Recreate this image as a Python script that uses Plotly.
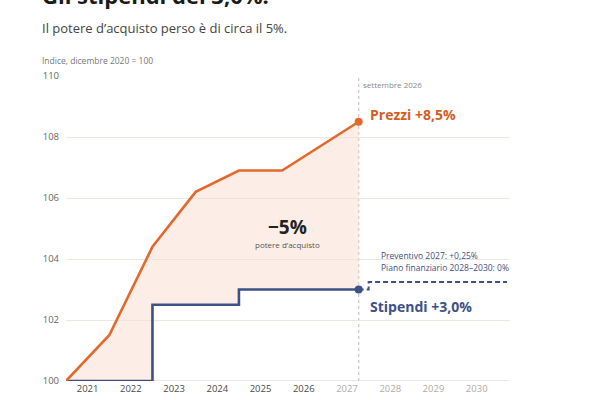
import plotly.graph_objects as go

# ---- data ----
# time in years since December 2020 (position on the chart's time scale)
price_t = [0, 1, 2, 3, 4, 5, 6.77]
price_v = [100, 101.5, 104.4, 106.2, 106.9, 106.9, 108.5]

wage_t = [0, 2, 4, 6.77]
wage_v = [100, 102.5, 103.0, 103.0]

forecast_t = [6.77, 7.0, 10.2]
forecast_v = [103.0, 103.25, 103.25]

year_labels = [2021, 2022, 2023, 2024, 2025, 2026, 2027, 2028, 2029, 2030]
future_from = 2027
y_ticks = [100, 102, 104, 106, 108, 110]

ORANGE = "#e2692c"
ORANGE_TXT = "#d45e22"
BLUE = "#3e5186"
FILL = "rgba(249,222,206,0.5)"
FONT = "Open Sans"

# stepped wage path (hv) from data
step_x, step_y = [wage_t[0]], [wage_v[0]]
for i in range(1, len(wage_t)):
    step_x += [wage_t[i], wage_t[i]]
    step_y += [wage_v[i - 1], wage_v[i]]
poly_x = price_t + step_x[::-1]
poly_y = price_v + step_y[::-1]

fig = go.Figure()
fig.add_trace(go.Scatter(x=poly_x, y=poly_y, fill="toself", fillcolor=FILL,
                         line=dict(width=0), mode="lines", hoverinfo="skip"))
fig.add_trace(go.Scatter(x=forecast_t, y=forecast_v, mode="lines",
                         line=dict(color=BLUE, width=2, dash="5px,3px", shape="hv")))
fig.add_trace(go.Scatter(x=wage_t, y=wage_v, mode="lines",
                         line=dict(color=BLUE, width=2.6, shape="hv")))
fig.add_trace(go.Scatter(x=price_t, y=price_v, mode="lines",
                         line=dict(color=ORANGE, width=2.6)))
fig.add_trace(go.Scatter(x=[price_t[-1]], y=[price_v[-1]], mode="markers",
                         marker=dict(color=ORANGE, size=8)))
fig.add_trace(go.Scatter(x=[wage_t[-1]], y=[wage_v[-1]], mode="markers",
                         marker=dict(color=BLUE, size=8)))

# vertical dotted line at last observation
fig.add_shape(type="line", x0=price_t[-1], x1=price_t[-1], y0=100, y1=110,
              xref="x", yref="y", line=dict(color="#cfcac4", width=1.3, dash="dot"),
              layer="below")
# baseline
fig.add_shape(type="line", x0=0, x1=1, xref="paper", y0=100, y1=100, yref="y",
              line=dict(color="#d6d1ca", width=1.2), layer="below")

ticktext = []
for yv in year_labels:
    col = "#b0aca8" if yv >= future_from else "#4a4a4a"
    ticktext.append(f"<span style='color:{col}'>{yv}</span>")

fig.update_layout(
    width=600, height=400,
    margin=dict(l=66, r=90, t=76, b=19),
    paper_bgcolor="white", plot_bgcolor="white",
    showlegend=False,
    font=dict(family=FONT, color="#555"),
    xaxis=dict(range=[0, 10.27], tickvals=[i + 0.5 for i in range(len(year_labels))],
               ticktext=ticktext, showgrid=False, zeroline=False, showline=False,
               ticks="", tickfont=dict(size=9.5, family=FONT), fixedrange=True,
               automargin=False),
    yaxis=dict(range=[100, 110], tickvals=y_ticks, showgrid=True,
               gridcolor="#ece7e0", gridwidth=1, zeroline=False, showline=False,
               ticks="", tickfont=dict(size=9.5, color="#666", family=FONT),
               ticklabelstandoff=6, fixedrange=True, automargin=False),
)

ann = []
ann.append(dict(text="<b>Gli stipendi del 3,0%.</b>", xref="paper", yref="paper",
                x=-26 / 444, y=(381 - 12) / 305, xanchor="left", yanchor="bottom",
                showarrow=False, font=dict(size=22, color="#1a1a1a", family=FONT)))
ann.append(dict(text="Il potere d’acquisto perso è di circa il 5%.", xref="paper", yref="paper",
                x=-26 / 444, y=(381 - 28) / 305, xanchor="left", yanchor="middle",
                showarrow=False, font=dict(size=13, color="#444", family=FONT)))
ann.append(dict(text="Indice, dicembre 2020 = 100", xref="paper", yref="paper",
                x=-26 / 444, y=(381 - 61) / 305, xanchor="left", yanchor="middle",
                showarrow=False, font=dict(size=8.5, color="#777", family=FONT)))
ann.append(dict(text="settembre 2026", x=price_t[-1], y=110, xanchor="left", yanchor="top",
                xshift=2, yshift=-1, showarrow=False,
                font=dict(size=8, color="#888", family=FONT)))
ann.append(dict(text="<b>Prezzi +8,5%</b>", x=price_t[-1], y=price_v[-1],
                xanchor="left", yanchor="middle", xshift=9, yshift=7, showarrow=False,
                font=dict(size=14, color=ORANGE_TXT, family=FONT)))
ann.append(dict(text="<b>Stipendi +3,0%</b>", x=wage_t[-1], y=wage_v[-1],
                xanchor="left", yanchor="middle", xshift=9, yshift=-17, showarrow=False,
                font=dict(size=14, color=BLUE, family=FONT)))
ann.append(dict(text="Preventivo 2027: +0,25%", x=forecast_t[1], y=forecast_v[1],
                xanchor="left", yanchor="middle", xshift=10, yshift=26, showarrow=False,
                font=dict(size=8.5, color=BLUE, family=FONT)))
ann.append(dict(text="Piano finanziario 2028–2030: 0%", x=forecast_t[1], y=forecast_v[1],
                xanchor="left", yanchor="middle", xshift=10, yshift=14, showarrow=False,
                font=dict(size=8.5, color=BLUE, family=FONT)))
ann.append(dict(text="<b>−5%</b>", x=5.13, y=105.06, xanchor="center", yanchor="middle",
                showarrow=False, font=dict(size=19, color="#222", family=FONT)))
ann.append(dict(text="potere d’acquisto", x=5.13, y=104.47, xanchor="center", yanchor="middle",
                showarrow=False, font=dict(size=8, color="#555", family=FONT)))
fig.update_layout(annotations=ann)

fig.write_html("out.html")
